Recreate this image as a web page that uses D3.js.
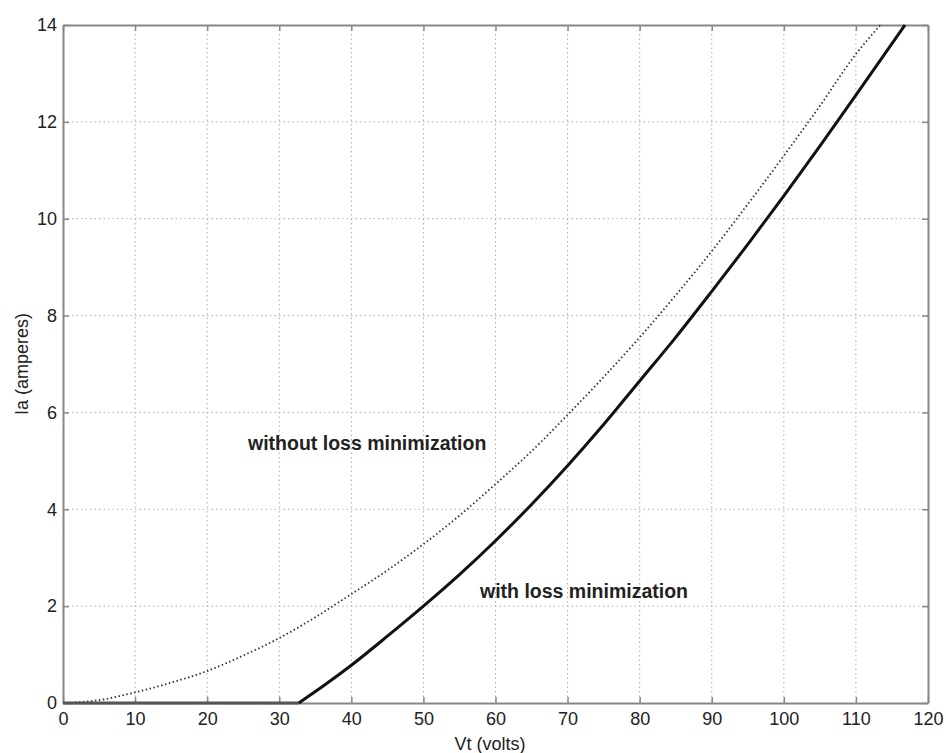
<!DOCTYPE html>
<html>
<head>
<meta charset="utf-8">
<script src="https://cdn.jsdelivr.net/npm/d3@7"></script>
<style>
  body { margin: 0; background: #fff; }
  text { font-family: "Liberation Sans", Arial, sans-serif; }
</style>
</head>
<body>
<svg id="chart" width="946" height="753"></svg>
<script>
// Armature current vs terminal voltage
const xTicks = [0, 10, 20, 30, 40, 50, 60, 70, 80, 90, 100, 110, 120];
const yTicks = [0, 2, 4, 6, 8, 10, 12, 14];

// without loss minimization (dotted)
const vtWithout = [0, 5, 10, 15, 20, 25, 30, 35, 40, 45, 50, 55, 60, 65, 70, 75, 80, 85, 90, 95, 100, 105, 110, 113.4];
const iaWithout = [0, 0.06, 0.22, 0.42, 0.66, 0.98, 1.34, 1.77, 2.25, 2.74, 3.28, 3.87, 4.52, 5.2, 5.95, 6.73, 7.55, 8.42, 9.33, 10.3, 11.3, 12.33, 13.4, 14];

// with loss minimization (solid): zero below the threshold voltage
const vtWith = [0, 32.7, 36, 40, 45, 50, 55, 60, 65, 70, 75, 80, 85, 90, 95, 100, 105, 110, 116.8];
const iaWith = [0, 0, 0.34, 0.78, 1.38, 2.0, 2.65, 3.35, 4.1, 4.9, 5.75, 6.65, 7.55, 8.5, 9.47, 10.47, 11.5, 12.55, 14];

const svg = d3.select("#chart");
const m = { left: 63, right: 928, top: 25, bottom: 703 };

const x = d3.scaleLinear().domain([0, 120]).range([m.left, m.right]);
const y = d3.scaleLinear().domain([0, 14]).range([m.bottom, m.top]);

// grid
const grid = svg.append("g");
grid.selectAll(".gx").data(xTicks.slice(1, -1)).enter().append("line")
  .attr("x1", d => x(d)).attr("x2", d => x(d))
  .attr("y1", m.top).attr("y2", m.bottom)
  .attr("stroke", "#aaa").attr("stroke-width", 1).attr("stroke-dasharray", "1.5,3");
grid.selectAll(".gy").data(yTicks.slice(1, -1)).enter().append("line")
  .attr("x1", m.left).attr("x2", m.right)
  .attr("y1", d => y(d)).attr("y2", d => y(d))
  .attr("stroke", "#aaa").attr("stroke-width", 1).attr("stroke-dasharray", "1.5,3");

// axes with inward ticks
const xAxis = d3.axisBottom(x).tickValues(xTicks).tickSizeInner(-6).tickSizeOuter(0).tickPadding(9);
const yAxis = d3.axisLeft(y).tickValues(yTicks).tickSizeInner(-6).tickSizeOuter(0).tickPadding(6);

const gx = svg.append("g").attr("transform", `translate(0,${m.bottom})`).call(xAxis);
const gy = svg.append("g").attr("transform", `translate(${m.left},0)`).call(yAxis);
const gxt = svg.append("g").attr("transform", `translate(0,${m.top})`)
  .call(d3.axisTop(x).tickValues(xTicks).tickSizeInner(-6).tickSizeOuter(0).tickFormat(""));
const gyr = svg.append("g").attr("transform", `translate(${m.right},0)`)
  .call(d3.axisRight(y).tickValues(yTicks).tickSizeInner(-6).tickSizeOuter(0).tickFormat(""));

[gx, gy, gxt, gyr].forEach(g => {
  g.select(".domain").attr("stroke", "#888").attr("stroke-width", 2);
  g.selectAll(".tick line").attr("stroke", "#888").attr("stroke-width", 1.5);
  g.selectAll(".tick text").attr("fill", "#222").style("font-size", "18px")
    .style("font-family", "'Liberation Sans', Arial, sans-serif");
});
// y labels sit just outside the frame; keep them clear of the inward tick marks
gy.selectAll(".tick text").attr("x", -6);

// curves
const line = d3.line().x(d => x(d[0])).y(d => y(d[1])).curve(d3.curveMonotoneX);
const flat = d3.line().x(d => x(d[0])).y(d => y(d[1]));

svg.append("path")
  .datum(vtWithout.map((v, i) => [v, iaWithout[i]]))
  .attr("d", line).attr("fill", "none")
  .attr("stroke", "#333").attr("stroke-width", 1.8).attr("stroke-dasharray", "1.5,2.5");

const withPts = vtWith.map((v, i) => [v, iaWith[i]]);
svg.append("path")
  .datum(withPts.slice(0, 2))
  .attr("d", flat).attr("fill", "none")
  .attr("stroke", "#555").attr("stroke-width", 3);
svg.append("path")
  .datum(withPts.slice(1))
  .attr("d", line).attr("fill", "none")
  .attr("stroke", "#111").attr("stroke-width", 3);

// annotations
svg.append("text").attr("x", 248).attr("y", 450)
  .style("font-size", "19.5px").style("font-weight", "bold").attr("fill", "#222")
  .text("without loss minimization");
svg.append("text").attr("x", 480).attr("y", 598)
  .style("font-size", "19.5px").style("font-weight", "bold").attr("fill", "#222")
  .text("with loss minimization");

// axis titles
svg.append("text").attr("x", 490).attr("y", 750).attr("text-anchor", "middle")
  .style("font-size", "18px").attr("fill", "#222").text("Vt (volts)");
svg.append("text").attr("transform", `translate(28,${y(7)}) rotate(-90)`)
  .attr("text-anchor", "middle")
  .style("font-size", "18px").attr("fill", "#222").text("Ia (amperes)");
</script>
</body>
</html>
